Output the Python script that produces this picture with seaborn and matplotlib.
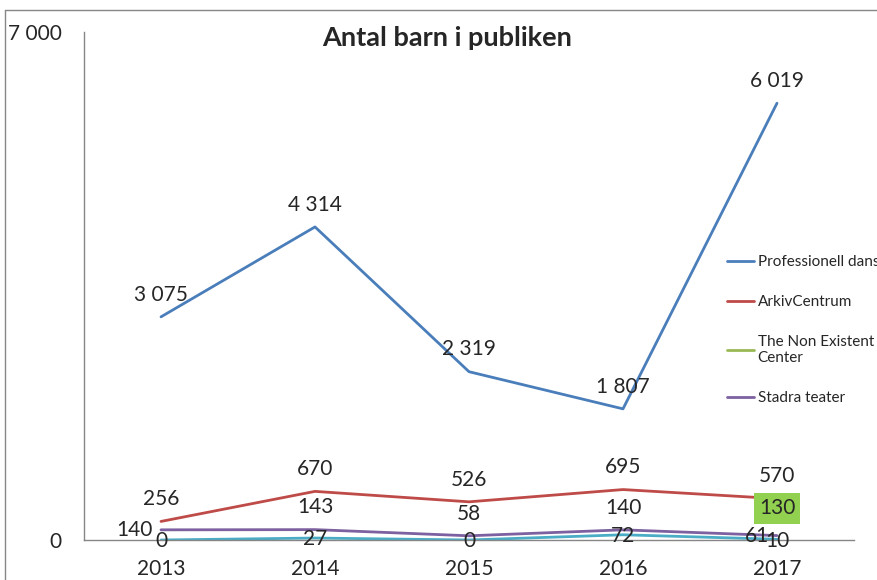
import matplotlib
matplotlib.use("Agg")
import matplotlib.pyplot as plt
from matplotlib.lines import Line2D
import numpy as np
import pandas as pd
import seaborn as sns

# -----------------------------
# Data
# -----------------------------
years = [2013, 2014, 2015, 2016, 2017]
series_names = ["Professionell dans", "ArkivCentrum", "The Non Existent\nCenter",
                "Stadra teater", "Serie 5"]
professionell_dans = [3075, 4314, 2319, 1807, 6019]
arkivcentrum = [256, 670, 526, 695, 570]
non_existent = [np.nan, np.nan, np.nan, np.nan, 130]
stadra_teater = [140, 143, 58, 140, 61]
serie_5 = [0, 27, 0, 72, 10]
y_ticks = [0, 7000]
title = "Antal barn i publiken"

colors = ["#4A7EBB", "#BE4B48", "#98B954", "#7D60A0", "#4BACC6"]

values = [professionell_dans, arkivcentrum, non_existent, stadra_teater, serie_5]
rows = []
for name, vals in zip(series_names, values):
    for yr, v in zip(years, vals):
        rows.append({"year": yr, "series": name, "value": v})
df = pd.DataFrame(rows)


def fmt(v):
    return f"{int(v):,}".replace(",", " ")


sns.set_style("white")
plt.rcParams["font.family"] = ["Lato", "DejaVu Sans"]

fig = plt.figure(figsize=(8.78, 5.8), dpi=100)
ax = fig.add_axes([84 / 878, 40 / 580, 770 / 878, 508 / 580])

sns.lineplot(data=df.dropna(), x="year", y="value", hue="series",
             hue_order=series_names, palette=colors, linewidth=2,
             legend=False, ax=ax)

ax.set_xlim(2012.5, 2017.5)
ax.set_ylim(0, 7000)
ax.set_xticks(years)
ax.set_xticklabels([str(y) for y in years], fontsize=15)
ax.set_xticks([y - 0.5 for y in years] + [2017.5], minor=True)
ax.tick_params(axis="x", which="major", length=0, pad=14)
ax.tick_params(axis="x", which="minor", length=8, color="#868686", width=1,
               direction="out")
ax.set_yticks(y_ticks)
ax.set_yticklabels([fmt(v) for v in y_ticks], fontsize=15)
ax.tick_params(axis="y", length=0, pad=16)
ax.set_xlabel("")
ax.set_ylabel("")
for side in ["top", "right"]:
    ax.spines[side].set_visible(False)
for side in ["left", "bottom"]:
    ax.spines[side].set_color("#868686")
    ax.spines[side].set_linewidth(1)

# data labels: where each label sits relative to its point
placement = {
    0: ["above"] * 5,
    1: ["above"] * 5,
    2: ["box"] * 5,
    3: ["left", "above", "above", "above", "left"],
    4: ["center"] * 5,
}
for i, vals in enumerate(values):
    for yr, v in zip(years, vals):
        if np.isnan(v):
            continue
        where = placement[i][years.index(yr)]
        kw = dict(fontsize=15, textcoords="offset points", va="center")
        if where == "above":
            ax.annotate(fmt(v), (yr, v), xytext=(0, 16), ha="center", **kw)
        elif where == "left":
            ax.annotate(fmt(v), (yr, v), xytext=(-6, 0), ha="right", **kw)
        elif where == "center":
            ax.annotate(fmt(v), (yr, v), xytext=(0, -1), ha="center", **kw)
        else:
            ax.annotate(fmt(v), (yr, v), xytext=(0, 16), ha="center",
                        bbox=dict(boxstyle="square,pad=0.25", fc="#92D050",
                                  ec="none"), **kw)

# legend (the fifth series has no entry)
handles = [Line2D([], [], color=c, linewidth=2) for c in colors[:4]]
ax.legend(handles, series_names[:4], loc="upper left",
          bbox_to_anchor=(727 / 878, 1 - 255 / 580),
          bbox_transform=fig.transFigure, frameon=False, fontsize=11,
          handlelength=1.8, handletextpad=0.2, labelspacing=1.7,
          borderaxespad=0, borderpad=0)

fig.text(447 / 878, 1 - 38 / 580, title, ha="center", va="center",
         fontsize=19.5, fontweight="bold")

# chart area border
fig.add_artist(Line2D([5 / 878, 1.0], [1 - 10 / 580] * 2,
                      transform=fig.transFigure, color="#868686", linewidth=1))
fig.add_artist(Line2D([5 / 878] * 2, [0, 1 - 10 / 580],
                      transform=fig.transFigure, color="#868686", linewidth=1))

fig.savefig("out.png", dpi=100)
